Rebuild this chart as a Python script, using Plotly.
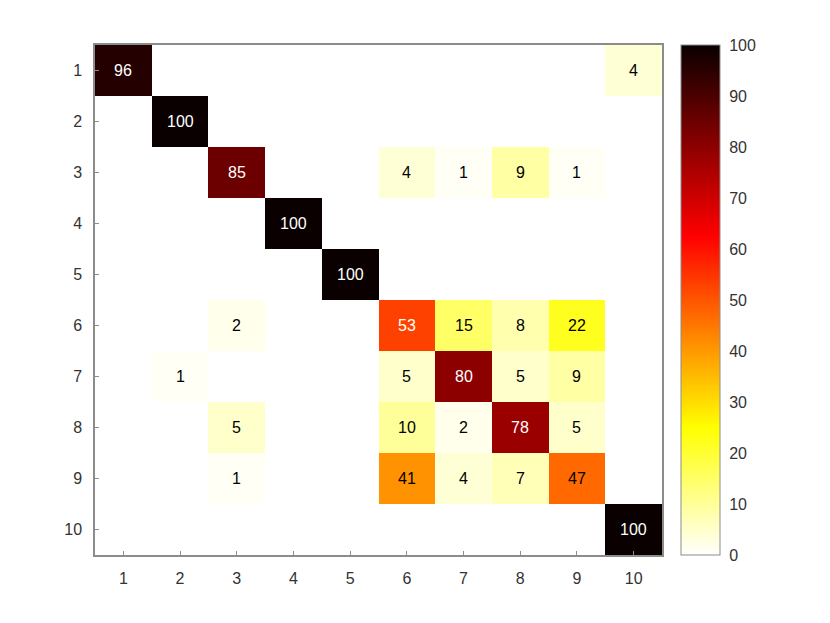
import plotly.graph_objects as go

classes = list(range(1, 11))
tick_labels = [str(c) for c in classes]
# confusion matrix (rows = true class 1..10, cols = predicted class 1..10), percent
row1 = [96, 0, 0, 0, 0, 0, 0, 0, 0, 4]
row2 = [0, 100, 0, 0, 0, 0, 0, 0, 0, 0]
row3 = [0, 0, 85, 0, 0, 4, 1, 9, 1, 0]
row4 = [0, 0, 0, 100, 0, 0, 0, 0, 0, 0]
row5 = [0, 0, 0, 0, 100, 0, 0, 0, 0, 0]
row6 = [0, 0, 2, 0, 0, 53, 15, 8, 22, 0]
row7 = [0, 1, 0, 0, 0, 5, 80, 5, 9, 0]
row8 = [0, 0, 5, 0, 0, 10, 2, 78, 5, 0]
row9 = [0, 0, 1, 0, 0, 41, 4, 7, 47, 0]
row10 = [0, 0, 0, 0, 0, 0, 0, 0, 0, 100]
z = [row1, row2, row3, row4, row5, row6, row7, row8, row9, row10]

colorscale = [
    [0.0, "rgb(255,255,255)"],
    [0.25, "rgb(255,255,0)"],
    [0.625, "rgb(255,0,0)"],
    [1.0, "rgb(10,0,0)"],
]

FONT = "Liberation Sans, Arial"
FS = 16

fig = go.Figure()
fig.add_trace(go.Heatmap(
    z=z, x=classes, y=classes,
    colorscale=colorscale, zmin=0, zmax=100,
    showscale=True,
    colorbar=dict(
        x=1.0335, xanchor="left", xpad=0, y=0.5, yanchor="middle",
        len=1.0, lenmode="fraction", thickness=39, thicknessmode="pixels",
        outlinecolor="#8c8c8c", outlinewidth=1,
        tickmode="array", tickvals=list(range(0, 101, 10)),
        ticks="outside", ticklen=6, tickcolor="rgba(0,0,0,0)",
        tickfont=dict(family=FONT, size=FS, color="#333"),
        ypad=0,
    ),
))

annotations = []
for i, row in enumerate(z):
    for j, v in enumerate(row):
        if v > 0:
            annotations.append(dict(
                x=classes[j], y=classes[i], text=str(v), showarrow=False,
                font=dict(family=FONT, size=FS,
                          color="white" if v >= 50 else "black"),
                xref="x", yref="y",
            ))

fig.update_layout(
    width=830, height=623,
    margin=dict(l=87, r=176, t=37, b=76, autoexpand=False),
    paper_bgcolor="white", plot_bgcolor="white",
    annotations=annotations,
    font=dict(family=FONT, size=FS, color="#333"),
)
fig.update_xaxes(
    range=[0.5, 10.5], tickmode="array", tickvals=classes, ticktext=tick_labels,
    showline=True, linecolor="#8c8c8c", linewidth=1.5, mirror=True,
    ticks="inside", ticklen=4, tickcolor="#8c8c8c", showgrid=False, zeroline=False,
    tickfont=dict(size=FS, color="#333"), ticklabelstandoff=8, automargin=False,
)
fig.update_yaxes(
    range=[10.5, 0.5], tickmode="array", tickvals=classes, ticktext=tick_labels,
    showline=True, linecolor="#8c8c8c",
    linewidth=1.5, mirror=True, ticks="inside", ticklen=4, tickcolor="#8c8c8c",
    showgrid=False, zeroline=False, tickfont=dict(size=FS, color="#333"),
    ticklabelstandoff=8, automargin=False,
)

fig.write_html("out.html")
